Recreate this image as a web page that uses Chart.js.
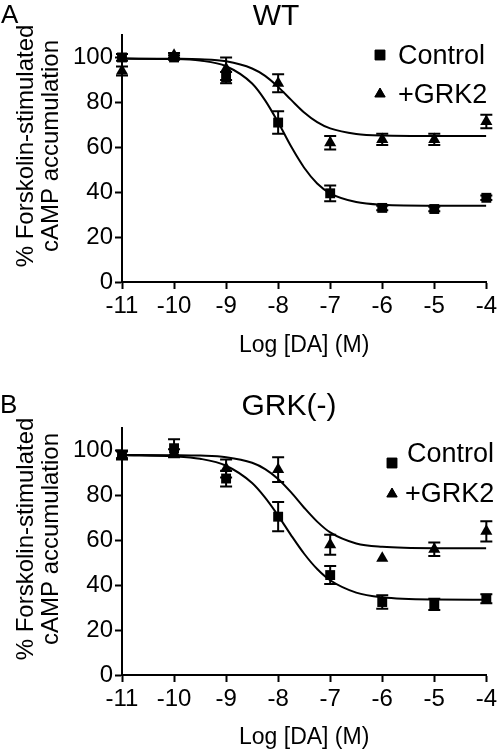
<!DOCTYPE html>
<html>
<head>
<meta charset="utf-8">
<script src="https://cdn.jsdelivr.net/npm/chart.js@4.4.0/dist/chart.umd.min.js"></script>
<style>
  body { margin: 0; background: #fff; }
  .panel { position: absolute; left: 0; width: 500px; }
  #panelA { top: 0; height: 375px; }
  #panelB { top: 375px; height: 374px; }
</style>
</head>
<body>
<div class="panel" id="panelA"><canvas id="chartA" width="500" height="375"></canvas></div>
<div class="panel" id="panelB"><canvas id="chartB" width="500" height="374"></canvas></div>
<script>
// DATOS: log [DA] (M) y % de acumulacion de cAMP
const logDA = [-11, -10, -9, -8, -7, -6, -5, -4];

const wtControl = [100, 100, 91, 71, 39.5, 33, 32.5, 37.5];
const wtControlErr = [1.5, 1, 2.5, 5, 3.5, 1, 1, 1];
const wtGrk2 = [94, 101, 95, 88.5, 62, 63.5, 63.5, 71.5];
const wtGrk2Err = [2, 1, 5, 4, 3, 2.5, 2.5, 3];

const grkControl = [98, 101, 87.5, 70.5, 44.5, 32.5, 31.5, 34];
const grkControlErr = [2, 4, 3.5, 6.5, 4, 3, 2.5, 2];
const grkGrk2 = [98, 99, 92, 91.5, 58, 52, 56, 64];
const grkGrk2Err = [1.5, 1.5, 4, 5.5, 4.5, 0, 3, 4.5];

// CURVAS AJUSTADAS
const curvaX = [-11, -10, -9.5, -9, -8.5, -8.25, -8, -7.75, -7.5, -7.25, -7, -6.5, -6, -5, -4];
const wtControlCurva = [99.5, 99.3, 98.6, 96.1, 88.4, 80.9, 71.1, 60.3, 50.9, 43.9, 39.5, 35.6, 34.4, 34.0, 34.0];
const wtGrk2Curva = [99.5, 99.4, 99.2, 98.3, 95.1, 91.8, 86.9, 81.1, 75.5, 71.2, 68.4, 65.9, 65.2, 65.0, 65.0];
const grkControlCurva = [97.9, 97.4, 96.3, 93.2, 85.5, 79.0, 71.0, 62.2, 54.0, 47.2, 42.2, 36.7, 34.6, 33.6, 33.5];
const grkGrk2Curva = [98.0, 97.9, 97.7, 97.0, 94.5, 91.7, 87.3, 81.3, 74.5, 68.3, 63.5, 58.6, 57.1, 56.5, 56.5];

const xTicks = [-11, -10, -9, -8, -7, -6, -5, -4];
const yTicks = [0, 20, 40, 60, 80, 100];
const leyendas = ['Control', '+GRK2'];
const tituloY = ['% Forskolin-stimulated', 'cAMP accumulation'];
const tituloX = 'Log [DA] (M)';

const FUENTE = "'Liberation Sans', Arial, Helvetica, sans-serif";

const aPuntos = (xs, ys) => xs.map((x, i) => ({ x: x, y: ys[i] }));

// PLUGIN QUE DIBUJA LAS BARRAS DE ERROR
const barrasError = {
  id: 'barrasError',
  afterDatasetsDraw(chart) {
    const { ctx, scales: { x, y } } = chart;
    ctx.save();
    ctx.strokeStyle = '#000';
    ctx.lineWidth = 2;
    chart.data.datasets.forEach((ds) => {
      if (!ds.errores) return;
      ds.data.forEach((p, j) => {
        const e = ds.errores[j];
        if (!e) return;
        const px = x.getPixelForValue(p.x);
        const arriba = y.getPixelForValue(p.y + e);
        const abajo = y.getPixelForValue(p.y - e);
        ctx.beginPath();
        ctx.moveTo(px, arriba); ctx.lineTo(px, abajo);
        ctx.moveTo(px - 6, arriba); ctx.lineTo(px + 6, arriba);
        ctx.moveTo(px - 6, abajo); ctx.lineTo(px + 6, abajo);
        ctx.stroke();
      });
    });
    ctx.restore();
  }
};

// PLUGIN PARA LETRA, TITULO, TITULO Y Y LEYENDA
const textos = {
  id: 'textos',
  afterDraw(chart, args, o) {
    const { ctx } = chart;
    ctx.save();
    ctx.fillStyle = '#000';
    ctx.textBaseline = 'alphabetic';
    ctx.textAlign = 'left';
    ctx.font = `26px ${FUENTE}`;
    ctx.fillText(o.letra, o.letraPos[0], o.letraPos[1]);

    ctx.textAlign = 'center';
    ctx.font = `30px ${FUENTE}`;
    ctx.fillText(o.titulo, o.tituloPos[0], o.tituloPos[1]);

    ctx.font = `24px ${FUENTE}`;
    ctx.textBaseline = 'middle';
    tituloY.forEach((linea, i) => {
      ctx.save();
      ctx.translate(o.ejeYPos[0] + i * 25, o.ejeYPos[1]);
      ctx.rotate(-Math.PI / 2);
      ctx.fillText(linea, 0, 0);
      ctx.restore();
    });

    ctx.textAlign = 'left';
    ctx.font = `27px ${FUENTE}`;
    o.leyenda.forEach((l, i) => {
      Chart.helpers.drawPoint(ctx, { pointStyle: l.estilo, radius: l.radio, rotation: 0, borderWidth: 1 }, l.marca[0], l.marca[1]);
      ctx.fill();
      ctx.fillText(leyendas[i], l.texto[0], l.texto[1]);
    });
    ctx.restore();
  }
};

const crearGrafica = (canvas, control, controlErr, grk2, grk2Err, curvaC, curvaG, disposicion) => {
  const config = {
    data: {
      datasets: [
        {
          type: 'line', data: aPuntos(curvaX, curvaC), borderColor: '#000', borderWidth: 2,
          pointRadius: 0, cubicInterpolationMode: 'monotone', fill: false
        },
        {
          type: 'line', data: aPuntos(curvaX, curvaG), borderColor: '#000', borderWidth: 2,
          pointRadius: 0, cubicInterpolationMode: 'monotone', fill: false
        },
        {
          type: 'scatter', data: aPuntos(logDA, control), errores: controlErr,
          pointStyle: 'rect', pointRadius: 7, backgroundColor: '#000', borderColor: '#000', borderWidth: 0, clip: false
        },
        {
          type: 'scatter', data: aPuntos(logDA, grk2), errores: grk2Err,
          pointStyle: 'triangle', pointRadius: 7, backgroundColor: '#000', borderColor: '#000', borderWidth: 0, clip: false
        }
      ]
    },
    options: {
      responsive: false,
      animation: false,
      layout: { padding: { top: disposicion.arriba, right: 9, left: 0, bottom: 0 } },
      plugins: {
        legend: { display: false },
        tooltip: { enabled: false },
        textos: disposicion.textos
      },
      scales: {
        x: {
          type: 'linear', min: -11, max: -4,
          afterFit: (s) => { s.height = disposicion.altoX; },
          afterBuildTicks: (s) => { s.ticks = xTicks.map((v) => ({ value: v })); },
          ticks: { color: '#000', font: { family: FUENTE, size: 24 }, padding: 3 },
          grid: { drawOnChartArea: false, drawTicks: true, tickLength: 7, tickWidth: 2, tickColor: '#000' },
          border: { display: true, color: '#000', width: 2 },
          title: {
            display: true, text: tituloX, color: '#000',
            font: { family: FUENTE, size: 23, lineHeight: 0.8 },
            padding: { top: 0, bottom: disposicion.padTituloX }
          }
        },
        y: {
          min: 0, max: 110,
          afterFit: (s) => { s.width = 122; },
          afterBuildTicks: (s) => { s.ticks = yTicks.map((v) => ({ value: v })); },
          ticks: { color: '#000', font: { family: FUENTE, size: 24 }, padding: 2 },
          grid: { drawOnChartArea: false, drawTicks: true, tickLength: 7, tickWidth: 2, tickColor: '#000' },
          border: { display: true, color: '#000', width: 2 }
        }
      }
    },
    plugins: [barrasError, textos]
  };
  return new Chart(canvas, config);
};

crearGrafica(document.getElementById('chartA'), wtControl, wtControlErr, wtGrk2, wtGrk2Err,
  wtControlCurva, wtGrk2Curva, {
    arriba: 35, altoX: 93, padTituloX: 20,
    textos: {
      letra: 'A', letraPos: [1, 23], titulo: 'WT', tituloPos: [276, 25], ejeYPos: [26, 146],
      leyenda: [
        { estilo: 'rect', radio: 7, marca: [380, 55], texto: [398, 57] },
        { estilo: 'triangle', radio: 6, marca: [380, 94], texto: [398, 96] }
      ]
    }
  });

crearGrafica(document.getElementById('chartB'), grkControl, grkControlErr, grkGrk2, grkGrk2Err,
  grkControlCurva, grkGrk2Curva, {
    arriba: 53, altoX: 74, padTituloX: 2,
    textos: {
      letra: 'B', letraPos: [0, 38], titulo: 'GRK(-)', tituloPos: [289, 40], ejeYPos: [26, 164],
      leyenda: [
        { estilo: 'rect', radio: 7, marca: [392, 88], texto: [407, 80] },
        { estilo: 'triangle', radio: 6, marca: [392, 119], texto: [405, 120] }
      ]
    }
  });
</script>
</body>
</html>
